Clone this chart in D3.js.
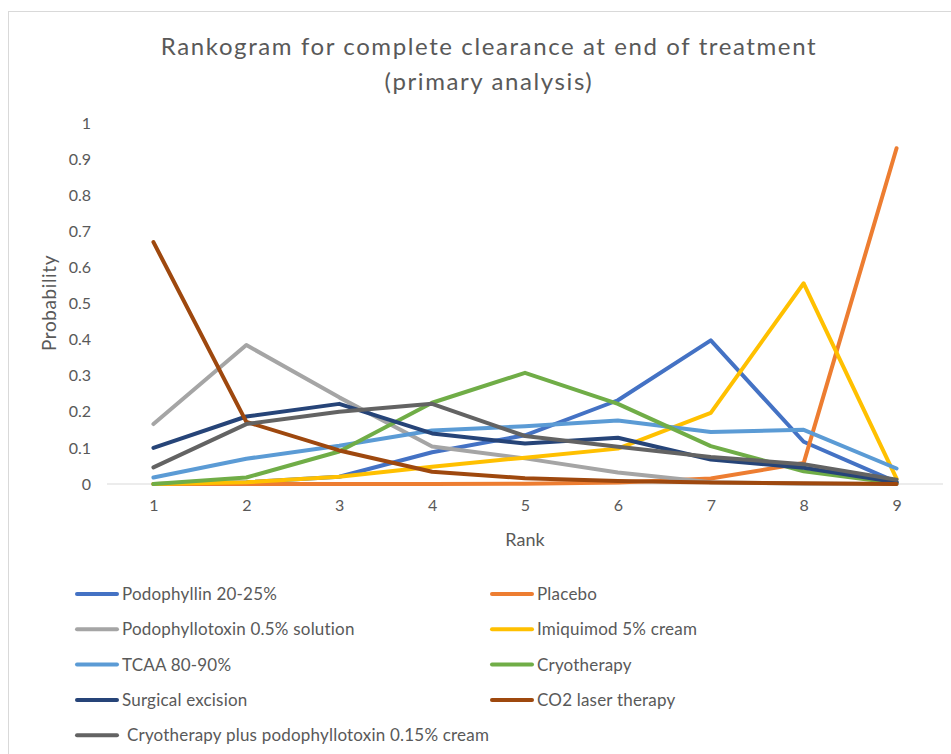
<!DOCTYPE html>
<html>
<head>
<meta charset="utf-8">
<script src="https://cdn.jsdelivr.net/npm/d3@7"></script>
<style>
  body { margin: 0; background: #fff; }
  svg { font-family: Lato, "Open Sans", sans-serif; }
</style>
</head>
<body>
<svg width="951" height="754"></svg>
<script>
const ranks = [1, 2, 3, 4, 5, 6, 7, 8, 9];
const yTicks = [0, 0.1, 0.2, 0.3, 0.4, 0.5, 0.6, 0.7, 0.8, 0.9, 1];

const names = [
  'Podophyllin 20-25%',
  'Placebo',
  'Podophyllotoxin 0.5% solution',
  'Imiquimod 5% cream',
  'TCAA 80-90%',
  'Cryotherapy',
  'Surgical excision',
  'CO2 laser therapy',
  'Cryotherapy plus podophyllotoxin 0.15% cream'
];

const podophyllin   = [0, 0.005, 0.02, 0.088, 0.135, 0.232, 0.398, 0.117, 0.005];
const placebo       = [0, 0, 0, 0, 0.001, 0.004, 0.015, 0.058, 0.93];
const podoSolution  = [0.166, 0.385, 0.24, 0.104, 0.071, 0.032, 0.005, 0.001, 0];
const imiquimod     = [0, 0.005, 0.02, 0.048, 0.073, 0.098, 0.197, 0.556, 0.015];
const tcaa          = [0.018, 0.07, 0.106, 0.148, 0.16, 0.176, 0.144, 0.15, 0.043];
const cryotherapy   = [0, 0.018, 0.09, 0.225, 0.308, 0.222, 0.105, 0.035, 0.002];
const surgical      = [0.1, 0.187, 0.222, 0.14, 0.112, 0.128, 0.068, 0.045, 0.005];
const co2laser      = [0.67, 0.172, 0.093, 0.034, 0.016, 0.008, 0.004, 0.002, 0];
const cryoPodo      = [0.046, 0.166, 0.2, 0.222, 0.133, 0.103, 0.075, 0.055, 0.012];

const series = [podophyllin, placebo, podoSolution, imiquimod, tcaa, cryotherapy, surgical, co2laser, cryoPodo];
const colors = ['#4472C4', '#ED7D31', '#A5A5A5', '#FFC000', '#5B9BD5', '#70AD47', '#264478', '#9E480E', '#636363'];

const svg = d3.select('svg');
const textColor = '#595959';

// chart frame
svg.append('rect')
  .attr('x', 8.5).attr('y', 11.5)
  .attr('width', 960).attr('height', 760)
  .attr('fill', 'none')
  .attr('stroke', '#d9d9d9');

// title
const title = svg.append('text')
  .attr('text-anchor', 'middle')
  .attr('fill', textColor)
  .attr('font-size', 24)
  .attr('letter-spacing', 1.6);
title.append('tspan').attr('x', 489).attr('y', 55).text('Rankogram for complete clearance at end of treatment');
title.append('tspan').attr('x', 489).attr('y', 90).text('(primary analysis)');

const x = d3.scalePoint()
  .domain(ranks)
  .range([107, 943])
  .padding(0.5);

const y = d3.scaleLinear()
  .domain([0, 1])
  .range([484, 123]);

// baseline
svg.append('line')
  .attr('x1', 107).attr('x2', 943)
  .attr('y1', y(0)).attr('y2', y(0))
  .attr('stroke', '#d9d9d9')
  .attr('stroke-width', 1);

// y axis labels
const yAxis = svg.append('g')
  .attr('transform', 'translate(91,0)')
  .call(d3.axisLeft(y).tickValues(yTicks).tickSize(0).tickPadding(0).tickFormat(d3.format('')));
yAxis.select('.domain').remove();
yAxis.selectAll('text')
  .attr('fill', textColor)
  .attr('font-size', 16)
  .attr('font-family', 'Lato, sans-serif');

// x axis labels
const xAxis = svg.append('g')
  .attr('transform', `translate(0,${y(0) + 16})`)
  .call(d3.axisBottom(x).tickSize(0).tickPadding(0));
xAxis.select('.domain').remove();
xAxis.selectAll('text')
  .attr('fill', textColor)
  .attr('font-size', 16)
  .attr('font-family', 'Lato, sans-serif');

svg.append('text')
  .attr('x', 525).attr('y', 546)
  .attr('text-anchor', 'middle')
  .attr('fill', textColor)
  .attr('font-size', 18)
  .text('Rank');

svg.append('text')
  .attr('transform', 'translate(56,303) rotate(-90)')
  .attr('text-anchor', 'middle')
  .attr('fill', textColor)
  .attr('font-size', 19)
  .attr('letter-spacing', 0.6)
  .text('Probability');

// lines
const line = d3.line()
  .x((d, i) => x(ranks[i]))
  .y(d => y(d));

svg.append('g')
  .selectAll('path')
  .data(series)
  .join('path')
  .attr('d', line)
  .attr('fill', 'none')
  .attr('stroke', (d, i) => colors[i])
  .attr('stroke-width', 4)
  .attr('stroke-linejoin', 'round')
  .attr('stroke-linecap', 'round');

// legend
const legend = svg.append('g');
const item = legend.selectAll('g')
  .data(names)
  .join('g')
  .attr('transform', (d, i) => `translate(${i % 2 === 0 ? 77 : 492},${594 + Math.floor(i / 2) * 35.3})`);

item.append('line')
  .attr('x1', 0).attr('x2', 40)
  .attr('stroke', (d, i) => colors[i])
  .attr('stroke-width', 4)
  .attr('stroke-linecap', 'round');

item.append('text')
  .attr('x', (d, i) => (i === 8 ? 50 : 45))
  .attr('dy', '0.35em')
  .attr('fill', textColor)
  .attr('font-size', 17)
  .attr('letter-spacing', 0.2)
  .text(d => d);
</script>
</body>
</html>
